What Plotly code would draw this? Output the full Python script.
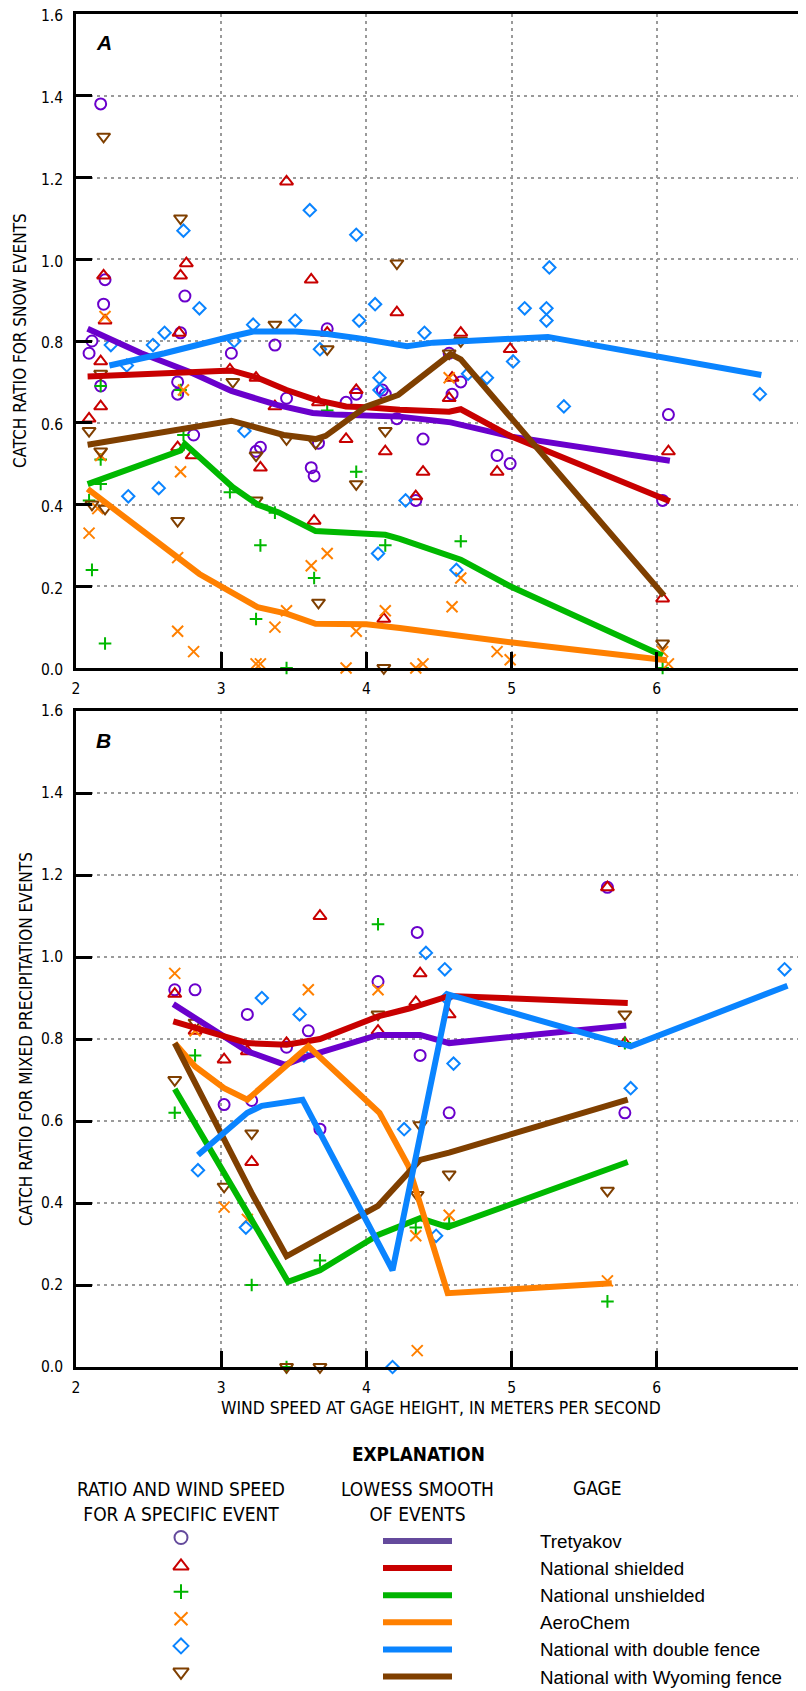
import plotly.graph_objects as go

FONT_N = "Liberation Sans Narrow, Arial Narrow, DejaVu Sans Condensed, sans-serif"
FONT_R = "Liberation Sans, Arial, sans-serif"

GAGES = ["Tretyakov", "National shielded", "National unshielded", "AeroChem",
         "National with double fence", "National with Wyoming fence"]
COLORS = ["#6a00cc", "#c80000", "#00b800", "#ff8000", "#0a84ff", "#7f3f00"]
LEG_COLORS = ["#644a9c", "#c80000", "#00b400", "#ff8000", "#0a84ff", "#7f3f00"]
SYMBOLS = ["circle-open", "triangle-up-open", "cross-thin-open", "x-thin-open",
           "diamond-open", "triangle-down-open"]

X_TICKS = [2, 3, 4, 5, 6, 7]
Y_TICKS = [0.0, 0.2, 0.4, 0.6, 0.8, 1.0, 1.2, 1.4, 1.6]
Y_TICK_TEXT = ["0.0", "0.2", "0.4", "0.6", "0.8", "1.0", "1.2", "1.4", "1.6"]

# ---------------- Panel A: snow events (points) ----------------
A_TRET_X = [2.09, 2.11, 2.17, 2.17, 2.19, 2.20, 2.70, 2.70, 2.72, 2.75, 2.81, 3.07, 3.24, 3.27, 3.37, 3.45, 3.62,
            3.64, 3.67, 3.73, 3.86, 3.93, 4.11, 4.13, 4.21, 4.34, 4.39, 4.57, 4.59, 4.65, 4.90, 4.99, 6.04, 6.08]
A_TRET_Y = [0.77, 0.80, 1.38, 0.69, 0.89, 0.95, 0.70, 0.67, 0.82, 0.91, 0.57, 0.77, 0.53, 0.54, 0.79, 0.66, 0.49,
            0.47, 0.55, 0.83, 0.65, 0.67, 0.68, 0.67, 0.61, 0.41, 0.56, 0.77, 0.67, 0.70, 0.52, 0.50, 0.41, 0.62]

A_SHLD_X = [2.09, 2.17, 2.17, 2.19, 2.20, 2.70, 2.71, 2.72, 2.76, 2.80, 3.06, 3.24, 3.27, 3.37, 3.45, 3.62, 3.64,
            3.67, 3.73, 3.86, 3.93, 4.12, 4.13, 4.21, 4.34, 4.39, 4.57, 4.59, 4.65, 4.90, 4.99, 6.04, 6.08]
A_SHLD_Y = [0.61, 0.75, 0.64, 0.96, 0.85, 0.54, 0.82, 0.96, 0.99, 0.52, 0.73, 0.71, 0.49, 0.64, 1.19, 0.95, 0.36,
            0.65, 0.82, 0.56, 0.68, 0.12, 0.53, 0.87, 0.42, 0.48, 0.66, 0.71, 0.82, 0.48, 0.78, 0.17, 0.53]

A_UNSH_X = [2.09, 2.11, 2.17, 2.17, 2.17, 2.20, 2.72, 2.74, 3.06, 3.24, 3.27, 3.37, 3.45, 3.64, 3.73, 3.93, 4.13,
            4.65, 6.04]
A_UNSH_Y = [0.41, 0.24, 0.69, 0.51, 0.45, 0.06, 0.68, 0.57, 0.43, 0.12, 0.30, 0.38, 0.00, 0.22, 0.63, 0.48, 0.30,
            0.31, 0.00]

A_AERO_X = [2.09, 2.15, 2.17, 2.20, 2.70, 2.70, 2.72, 2.74, 2.81, 3.24, 3.27, 3.37, 3.45, 3.62, 3.73, 3.86, 3.93,
            4.13, 4.34, 4.39, 4.57, 4.59, 4.65, 4.90, 4.99, 6.04, 6.08]
A_AERO_Y = [0.33, 0.39, 0.52, 0.86, 0.27, 0.09, 0.48, 0.68, 0.04, 0.01, 0.01, 0.10, 0.14, 0.25, 0.28, 0.00, 0.09,
            0.14, 0.00, 0.01, 0.71, 0.15, 0.22, 0.04, 0.02, 0.04, 0.01]

A_DBL_X = [2.24, 2.35, 2.36, 2.53, 2.57, 2.61, 2.74, 2.85, 3.09, 3.16, 3.22, 3.51, 3.61, 3.68, 3.93, 3.95, 4.06,
           4.08, 4.09, 4.09, 4.27, 4.40, 4.62, 4.70, 4.83, 5.01, 5.09, 5.24, 5.24, 5.26, 5.36, 6.71]
A_DBL_Y = [0.79, 0.74, 0.42, 0.79, 0.44, 0.82, 1.07, 0.88, 0.80, 0.58, 0.84, 0.85, 1.12, 0.78, 1.06, 0.85, 0.89,
           0.28, 0.71, 0.68, 0.41, 0.82, 0.24, 0.72, 0.71, 0.75, 0.88, 0.88, 0.85, 0.98, 0.64, 0.67]

A_WYO_X = [2.09, 2.11, 2.17, 2.17, 2.19, 2.20, 2.70, 2.72, 3.08, 3.24, 3.24, 3.37, 3.45, 3.65, 3.67, 3.73, 3.93,
           4.12, 4.13, 4.21, 4.57, 4.65, 6.04]
A_WYO_Y = [0.58, 0.40, 0.72, 0.53, 1.30, 0.39, 0.36, 1.10, 0.70, 0.52, 0.41, 0.84, 0.56, 0.55, 0.16, 0.78, 0.45,
           0.00, 0.58, 0.99, 0.77, 0.80, 0.06]

# ---------------- Panel A: LOWESS smooths ----------------
A_L_TRET_X = [2.08, 2.45, 2.78, 3.07, 3.27, 3.39, 3.63, 3.78, 4.23, 4.58, 5.00, 6.09]
A_L_TRET_Y = [0.83, 0.77, 0.725, 0.678, 0.656, 0.643, 0.624, 0.620, 0.615, 0.601, 0.566, 0.507]
A_L_SHLD_X = [2.08, 2.50, 2.80, 3.07, 3.25, 3.45, 3.65, 3.86, 4.00, 4.23, 4.57, 4.65, 5.00, 6.09]
A_L_SHLD_Y = [0.713, 0.720, 0.727, 0.728, 0.710, 0.680, 0.656, 0.640, 0.638, 0.632, 0.627, 0.633, 0.566, 0.408]
A_L_UNSH_X = [2.08, 2.72, 2.75, 3.08, 3.25, 3.40, 3.65, 4.13, 4.23, 4.65, 4.99, 6.04]
A_L_UNSH_Y = [0.450, 0.532, 0.548, 0.442, 0.400, 0.380, 0.335, 0.326, 0.316, 0.265, 0.200, 0.030]
A_L_AERO_X = [2.08, 2.72, 2.85, 3.25, 3.45, 3.65, 4.00, 4.23, 4.65, 4.99, 6.07]
A_L_AERO_Y = [0.438, 0.263, 0.230, 0.149, 0.133, 0.108, 0.107, 0.098, 0.077, 0.063, 0.019]
A_L_DBL_X = [2.23, 2.61, 3.07, 3.22, 3.51, 3.73, 3.94, 4.28, 4.46, 4.67, 5.00, 5.25, 6.72]
A_L_DBL_Y = [0.740, 0.770, 0.811, 0.823, 0.823, 0.817, 0.807, 0.787, 0.796, 0.800, 0.804, 0.810, 0.717]
A_L_WYO_X = [2.08, 2.72, 3.07, 3.43, 3.65, 3.72, 4.00, 4.22, 4.58, 4.65, 6.05]
A_L_WYO_Y = [0.546, 0.585, 0.605, 0.570, 0.560, 0.568, 0.640, 0.668, 0.768, 0.755, 0.177]

# ---------------- Panel B: mixed precipitation events (points) ----------------
B_TRET_X = [2.68, 2.82, 3.02, 3.18, 3.21, 3.45, 3.60, 3.68, 4.08, 4.35, 4.37, 4.57, 5.66, 5.78]
B_TRET_Y = [0.92, 0.92, 0.64, 0.86, 0.65, 0.78, 0.82, 0.58, 0.94, 1.06, 0.76, 0.62, 1.17, 0.62]
B_SHLD_X = [2.68, 2.82, 3.02, 3.18, 3.21, 3.45, 3.68, 4.08, 4.34, 4.37, 4.57, 5.66, 5.78]
B_SHLD_Y = [0.91, 0.82, 0.75, 0.77, 0.50, 0.79, 1.10, 0.82, 0.89, 0.96, 0.86, 1.17, 0.79]
B_UNSH_X = [2.68, 2.82, 3.21, 3.45, 3.68, 4.08, 4.34, 4.57, 5.66, 5.78]
B_UNSH_Y = [0.62, 0.76, 0.20, 0.00, 0.26, 1.08, 0.34, 0.35, 0.16, 0.79]
B_AERO_X = [2.68, 2.82, 3.02, 3.18, 3.60, 4.08, 4.34, 4.35, 4.57, 5.66]
B_AERO_Y = [0.96, 0.82, 0.39, 0.36, 0.92, 0.92, 0.32, 0.04, 0.37, 0.21]
B_DBL_X = [2.84, 3.17, 3.28, 3.54, 3.57, 4.18, 4.26, 4.41, 4.48, 4.54, 4.55, 4.60, 5.82, 6.88]
B_DBL_Y = [0.48, 0.34, 0.90, 0.86, 0.76, 0.00, 0.58, 1.01, 0.32, 0.97, 0.90, 0.74, 0.68, 0.97]
B_WYO_X = [2.68, 2.82, 3.02, 3.21, 3.45, 3.68, 4.08, 4.35, 4.37, 4.57, 5.66, 5.78]
B_WYO_Y = [0.70, 0.84, 0.44, 0.57, 0.00, 0.00, 0.86, 0.42, 0.59, 0.47, 0.43, 0.86]

# ---------------- Panel B: LOWESS smooths ----------------
B_L_TRET_X = [2.67, 3.18, 3.44, 3.57, 4.08, 4.37, 4.57, 5.79]
B_L_TRET_Y = [0.885, 0.770, 0.737, 0.755, 0.810, 0.810, 0.790, 0.833]
B_L_SHLD_X = [2.67, 3.18, 3.45, 3.68, 4.08, 4.30, 4.57, 5.80]
B_L_SHLD_Y = [0.843, 0.790, 0.786, 0.800, 0.855, 0.875, 0.905, 0.888]
B_L_UNSH_X = [2.68, 3.46, 3.68, 4.08, 4.37, 4.56, 5.80]
B_L_UNSH_Y = [0.678, 0.208, 0.236, 0.322, 0.363, 0.341, 0.500]
B_L_AERO_X = [2.68, 2.82, 3.02, 3.18, 3.60, 4.09, 4.29, 4.56, 5.69]
B_L_AERO_Y = [0.790, 0.733, 0.680, 0.652, 0.782, 0.620, 0.490, 0.180, 0.204]
B_L_DBL_X = [2.84, 3.18, 3.28, 3.56, 4.18, 4.57, 5.82, 6.90]
B_L_DBL_Y = [0.517, 0.620, 0.637, 0.652, 0.236, 0.908, 0.782, 0.930]
B_L_WYO_X = [2.68, 3.21, 3.45, 4.08, 4.37, 4.57, 5.80]
B_L_WYO_Y = [0.790, 0.424, 0.270, 0.393, 0.505, 0.523, 0.652]

A_POINTS = [(A_TRET_X, A_TRET_Y), (A_SHLD_X, A_SHLD_Y), (A_UNSH_X, A_UNSH_Y),
            (A_AERO_X, A_AERO_Y), (A_DBL_X, A_DBL_Y), (A_WYO_X, A_WYO_Y)]
A_LINES = [(A_L_TRET_X, A_L_TRET_Y), (A_L_SHLD_X, A_L_SHLD_Y), (A_L_UNSH_X, A_L_UNSH_Y),
           (A_L_AERO_X, A_L_AERO_Y), (A_L_DBL_X, A_L_DBL_Y), (A_L_WYO_X, A_L_WYO_Y)]
B_POINTS = [(B_TRET_X, B_TRET_Y), (B_SHLD_X, B_SHLD_Y), (B_UNSH_X, B_UNSH_Y),
            (B_AERO_X, B_AERO_Y), (B_DBL_X, B_DBL_Y), (B_WYO_X, B_WYO_Y)]
B_LINES = [(B_L_TRET_X, B_L_TRET_Y), (B_L_SHLD_X, B_L_SHLD_Y), (B_L_UNSH_X, B_L_UNSH_Y),
           (B_L_AERO_X, B_L_AERO_Y), (B_L_DBL_X, B_L_DBL_Y), (B_L_WYO_X, B_L_WYO_Y)]

# ---------------- styles / layout ----------------
SIZES = [11, 11.5, 9, 11, 9.5, 11.5]
LEG_SIZES = [13, 13.5, 10.5, 13, 11.5, 13.5]
LINE_ORDER = [0, 1, 2, 3, 5, 4]

W, H = 806, 1691
# the html page body has an 8px default margin: work in screen pixels, convert to figure pixels
SX, SY = 8, 8
PLOT_L, PLOT_R = 76, 802            # screen x of plot-area edges
PLOT_T, PLOT_B = 14, 1689           # screen y of the full (stacked) plot area
ML = PLOT_L - SX
MR = W - (PLOT_R - SX)
MT = PLOT_T - SY
MB = H - (PLOT_B - SY)
PH = H - MT - MB
PW = W - ML - MR


def py2paper(py):
    return (PLOT_B - py) / PH


A_TOP, A_BOT = 14, 668
B_TOP, B_BOT = 711, 1367
LEG_TOP = 1372.6

fig = go.Figure()

for pts, lines, xa, ya in [(A_POINTS, A_LINES, "x", "y"), (B_POINTS, B_LINES, "x2", "y2")]:
    for i, (xs, ys) in enumerate(pts):
        fig.add_trace(go.Scatter(
            x=xs, y=ys, mode="markers", xaxis=xa, yaxis=ya, cliponaxis=False,
            marker=dict(symbol=SYMBOLS[i], size=SIZES[i], color=COLORS[i],
                        line=dict(width=2, color=COLORS[i])),
            name=GAGES[i], hoverinfo="skip"))
    for i in LINE_ORDER:
        xs, ys = lines[i]
        fig.add_trace(go.Scatter(
            x=xs, y=ys, mode="lines", xaxis=xa, yaxis=ya, cliponaxis=False,
            line=dict(color=COLORS[i], width=6), name=GAGES[i], hoverinfo="skip"))

# ---------------- explanation (legend) on a hidden screen-pixel-mapped axis ----------------
LEG_MARK_X = 181
LEG_LINE_X = [383, 452]
LEG_TEXT_X = 537.5
LEG_ROW0 = 1541.5
LEG_DY = 27.1
rows = [LEG_ROW0 + k * LEG_DY for k in range(len(GAGES))]
for i, gy in enumerate(rows):
    fig.add_trace(go.Scatter(
        x=[LEG_MARK_X], y=[gy - 4 + (1.5 if i == 1 else 0) - (1 if i == 5 else 0)],
        mode="markers", xaxis="x3", yaxis="y3", cliponaxis=False,
        marker=dict(symbol=SYMBOLS[i], size=LEG_SIZES[i], color=LEG_COLORS[i],
                    line=dict(width=2, color=LEG_COLORS[i])), hoverinfo="skip"))
    fig.add_trace(go.Scatter(
        x=LEG_LINE_X, y=[gy - 0.5, gy - 0.5], mode="lines", xaxis="x3", yaxis="y3",
        cliponaxis=False, line=dict(color=LEG_COLORS[i], width=6), hoverinfo="skip"))

annotations = []
for i, gy in enumerate(rows):
    annotations.append(dict(x=LEG_TEXT_X, y=gy, xref="x3", yref="y3", text=GAGES[i],
                            showarrow=False, xanchor="left", yanchor="middle",
                            font=dict(family=FONT_R, size=18.8, color="black")))

annotations += [
    dict(x=441, y=1408, xref="x3", yref="y3", text="WIND SPEED AT GAGE HEIGHT, IN METERS PER SECOND",
         showarrow=False, xanchor="center", yanchor="middle",
         font=dict(family=FONT_N, size=17.4, color="black")),
    dict(x=418, y=1454, xref="x3", yref="y3", text="<b>EXPLANATION</b>",
         showarrow=False, xanchor="center", yanchor="middle",
         font=dict(family=FONT_N, size=18.8, color="black")),
    dict(x=181, y=1501, xref="x3", yref="y3", text="RATIO AND WIND SPEED<br>FOR A SPECIFIC EVENT",
         showarrow=False, xanchor="center", yanchor="middle", align="center",
         font=dict(family=FONT_N, size=19, color="black")),
    dict(x=417, y=1501, xref="x3", yref="y3", text="LOWESS SMOOTH<br>OF EVENTS",
         showarrow=False, xanchor="center", yanchor="middle", align="center",
         font=dict(family=FONT_N, size=19, color="black")),
    dict(x=597, y=1488, xref="x3", yref="y3", text="GAGE",
         showarrow=False, xanchor="center", yanchor="middle",
         font=dict(family=FONT_N, size=19, color="black")),
    dict(x=(104 - PLOT_L) / PW, y=(A_BOT - 43) / (A_BOT - A_TOP), xref="x domain", yref="y domain",
         text="<b><i>A</i></b>", showarrow=False, xanchor="center", yanchor="middle",
         font=dict(family=FONT_R, size=21, color="black")),
    dict(x=(103 - PLOT_L) / PW, y=(B_BOT - 740) / (B_BOT - B_TOP), xref="x2 domain", yref="y2 domain",
         text="<b><i>B</i></b>", showarrow=False, xanchor="center", yanchor="middle",
         font=dict(family=FONT_R, size=21, color="black")),
    dict(x=(20 - PLOT_L) / PW, y=0.5, xref="paper", yref="y domain", text="CATCH RATIO FOR SNOW EVENTS",
         textangle=-90, showarrow=False, xanchor="center", yanchor="middle",
         font=dict(family=FONT_N, size=17, color="black")),
    dict(x=(26 - PLOT_L) / PW, y=0.5, xref="paper", yref="y2 domain",
         text="CATCH RATIO FOR MIXED PRECIPITATION EVENTS",
         textangle=-90, showarrow=False, xanchor="center", yanchor="middle",
         font=dict(family=FONT_N, size=17, color="black")),
]

axis_common = dict(showline=True, linecolor="black", linewidth=2.5, mirror=True,
                   ticks="inside", ticklen=16, tickwidth=2.5, tickcolor="black",
                   showgrid=True, gridcolor="#9a9a9a", gridwidth=2, griddash="3px,4px",
                   zeroline=False, fixedrange=True, automargin=False, ticklabeloverflow="allow",
                   tickfont=dict(family=FONT_N, size=15.5, color="black"))

xcommon = dict(axis_common, range=[2, 7], tickvals=X_TICKS, ticklabelstandoff=5)
ycommon = dict(axis_common, range=[0, 1.6], tickvals=Y_TICKS, ticktext=Y_TICK_TEXT, ticklabelstandoff=7)

fig.update_layout(
    width=W, height=H, margin=dict(l=ML, r=MR, t=MT, b=MB, autoexpand=False),
    plot_bgcolor="white", paper_bgcolor="white", showlegend=False,
    xaxis=dict(xcommon, domain=[0, 1], anchor="y"),
    yaxis=dict(ycommon, domain=[py2paper(A_BOT), py2paper(A_TOP)], anchor="x", ticklabelshift=2),
    xaxis2=dict(xcommon, domain=[0, 1], anchor="y2"),
    yaxis2=dict(ycommon, domain=[py2paper(B_BOT), py2paper(B_TOP)], anchor="x2"),
    xaxis3=dict(domain=[0, 1], range=[PLOT_L, PLOT_R], visible=False, fixedrange=True, anchor="y3",
                automargin=False),
    yaxis3=dict(domain=[0, py2paper(LEG_TOP)], range=[PLOT_B, LEG_TOP], visible=False,
                fixedrange=True, anchor="x3", automargin=False),
    annotations=annotations,
)

fig.write_html("out.html")
